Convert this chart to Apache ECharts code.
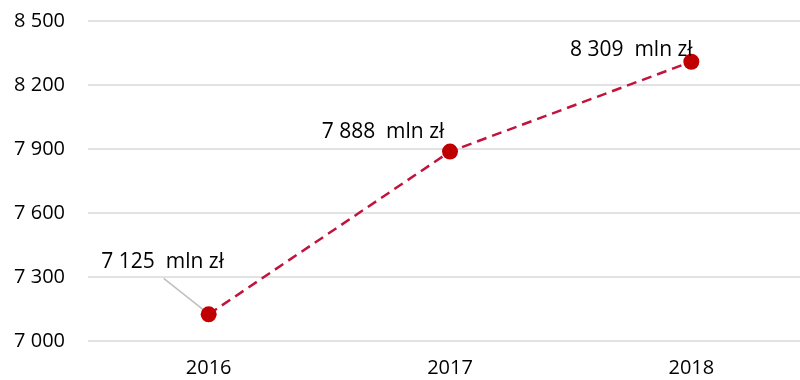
<!DOCTYPE html>
<html>
<head>
<meta charset="utf-8">
<script src="https://cdn.jsdelivr.net/npm/echarts@6/dist/echarts.min.js"></script>
<style>
  html, body { margin: 0; padding: 0; background: #fff; }
  #chart { width: 800px; height: 380px; }
</style>
</head>
<body>
<div id="chart"></div>
<script>
var years = ['2016', '2017', '2018'];
var values = [7125, 7888, 8309];
// label centre offset from the point centre
var labelOffset = [[-46, -52], [-67, -20], [-60, -12]];

function fmt(v) {
  return String(v).replace(/\B(?=(\d{3})+(?!\d))/g, ' ');
}

var myChart = echarts.init(document.getElementById('chart'));
var option = {
  animation: false,
  textStyle: { fontFamily: 'Open Sans, Liberation Sans, sans-serif' },
  grid: { left: 88, right: -12, top: 21, bottom: 39, outerBoundsMode: 'none', containLabel: false },
  xAxis: {
    type: 'category',
    data: years,
    axisLine: { show: false },
    axisTick: { show: false },
    axisLabel: { color: '#000', fontSize: 20, margin: 17 }
  },
  yAxis: {
    type: 'value',
    min: 7000,
    max: 8500,
    interval: 300,
    axisLine: { show: false },
    axisTick: { show: false },
    splitLine: { lineStyle: { color: '#d9d9d9', width: 1.5 } },
    axisLabel: {
      color: '#000',
      fontSize: 20,
      margin: 23,
      formatter: function (v) { return fmt(v); }
    }
  },
  series: [{
    // leader line for the first label
    type: 'custom',
    z: 1,
    silent: true,
    data: [[0, values[0]]],
    renderItem: function (params, api) {
      var c = api.coord([api.value(0), api.value(1)]);
      return {
        type: 'line',
        shape: { x1: c[0] - 45, y1: c[1] - 36, x2: c[0] - 2, y2: c[1] - 2 },
        style: { stroke: '#bfbfbf', lineWidth: 1.5 }
      };
    }
  }, {
    type: 'line',
    z: 2,
    data: values,
    symbol: 'circle',
    symbolSize: 16,
    itemStyle: { color: '#c00000' },
    lineStyle: { color: '#c0143c', width: 2.5, type: [10, 6] },
    label: {
      show: true,
      position: 'top',
      color: '#000',
      fontSize: 21,
      formatter: function (p) { return fmt(p.value) + '  mln zł'; }
    },
    labelLayout: function (p) {
      var o = labelOffset[p.dataIndex];
      var cx = p.rect.x + p.rect.width / 2;
      var cy = p.rect.y + p.rect.height / 2;
      return { x: cx + o[0], y: cy + o[1], align: 'center', verticalAlign: 'middle' };
    }
  }]
};
myChart.setOption(option);
</script>
</body>
</html>
